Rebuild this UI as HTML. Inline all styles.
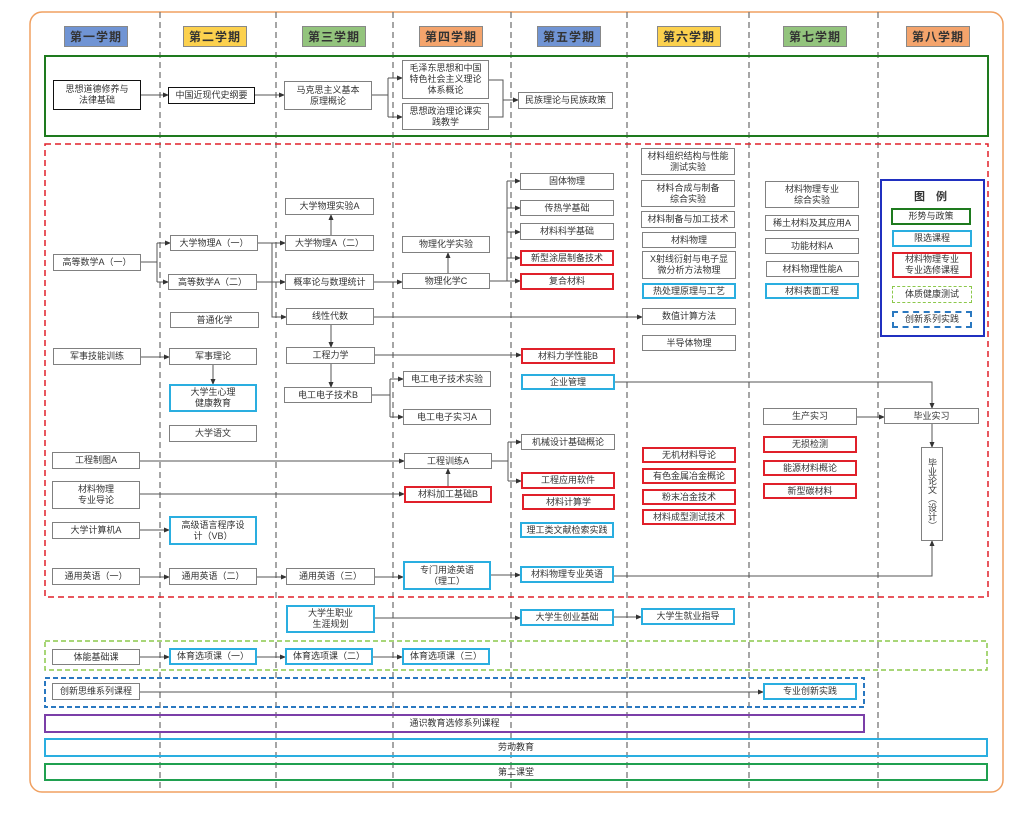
<!DOCTYPE html>
<html><head><meta charset="utf-8"><style>
body{margin:0;background:#fff;}
#w{position:relative;width:1024px;height:819px;overflow:hidden;font-family:"Liberation Sans","Noto Sans CJK SC",sans-serif;}
.b{position:absolute;box-sizing:border-box;border:1.5px solid #808080;background:#fff;display:flex;align-items:center;justify-content:center;text-align:center;font-size:9px;line-height:11px;color:#333;}
.r{border:2px solid #e0202a;}
.c{border:2px solid #2aaee0;}
.k{border:1.5px solid #111;}
.h{position:absolute;box-sizing:border-box;border:1px solid #888;display:flex;align-items:center;justify-content:center;font-size:12px;font-weight:bold;color:#333;top:26px;height:21px;letter-spacing:1px;}
svg{position:absolute;left:0;top:0;}
</style></head><body><div id="w">
<svg width="1024" height="819">
<defs><marker id="a" markerWidth="6" markerHeight="6" refX="5" refY="3" orient="auto" markerUnits="userSpaceOnUse"><path d="M0,0.5 L6,3 L0,5.5z" fill="#333"/></marker></defs>
<rect x="30" y="12" width="973" height="780" rx="12" fill="none" stroke="#f0a060" stroke-width="1.5"/>
<g stroke="#777" stroke-width="1.3" stroke-dasharray="6,4">
<line x1="160" y1="12" x2="160" y2="792"/><line x1="276" y1="12" x2="276" y2="792"/><line x1="393" y1="12" x2="393" y2="792"/><line x1="511" y1="12" x2="511" y2="792"/><line x1="627" y1="12" x2="627" y2="792"/><line x1="749" y1="12" x2="749" y2="792"/><line x1="878" y1="12" x2="878" y2="792"/>
</g>
<rect x="45" y="56" width="943" height="80" fill="none" stroke="#1e7a1e" stroke-width="2"/>
<rect x="45" y="144" width="943" height="453" fill="none" stroke="#e0202a" stroke-width="1.5" stroke-dasharray="6,4"/>
<rect x="45" y="641" width="942" height="29" fill="none" stroke="#8cc84b" stroke-width="1.5" stroke-dasharray="5,3"/>
<rect x="45" y="678" width="819" height="29" fill="none" stroke="#2a78c0" stroke-width="2" stroke-dasharray="5,3"/>
<rect x="45" y="715" width="819" height="17" fill="none" stroke="#7b3fa8" stroke-width="2"/>
<rect x="45" y="739" width="942" height="17" fill="none" stroke="#2aaee0" stroke-width="2"/>
<rect x="45" y="764" width="942" height="16" fill="none" stroke="#20a050" stroke-width="2"/>
<rect x="881" y="180" width="103" height="156" fill="#fff" stroke="#2030c0" stroke-width="2"/>
<g stroke="#555" stroke-width="1" fill="none">
<path d="M141 95H168" marker-end="url(#a)"/>
<path d="M255 95H284" marker-end="url(#a)"/>
<path d="M372 95H388M388 78V117M388 78H402" marker-end="url(#a)"/><path d="M388 117H402" marker-end="url(#a)"/>
<path d="M489 80H503V117H489M503 100H518" marker-end="url(#a)"/>
<path d="M141 262H157M157 243V282M157 243H170" marker-end="url(#a)"/><path d="M157 282H168" marker-end="url(#a)"/>
<path d="M258 243H285" marker-end="url(#a)"/>
<path d="M257 282H285" marker-end="url(#a)"/>
<path d="M272 243V317H286" marker-end="url(#a)"/>
<path d="M331 235V215" marker-end="url(#a)"/>
<path d="M374 282H402" marker-end="url(#a)"/>
<path d="M448 273V253" marker-end="url(#a)"/>
<path d="M490 281H507M507 181V281M507 181H520" marker-end="url(#a)"/><path d="M507 208H520" marker-end="url(#a)"/><path d="M507 232H520" marker-end="url(#a)"/><path d="M507 258H520" marker-end="url(#a)"/><path d="M507 281H520" marker-end="url(#a)"/>
<path d="M374 317H642" marker-end="url(#a)"/>
<path d="M331 325V347" marker-end="url(#a)"/>
<path d="M141 357H169" marker-end="url(#a)"/>
<path d="M213 365V384" marker-end="url(#a)"/>
<path d="M375 355H521" marker-end="url(#a)"/>
<path d="M331 364V387" marker-end="url(#a)"/>
<path d="M372 395H390M390 379V417M390 379H403" marker-end="url(#a)"/><path d="M390 417H403" marker-end="url(#a)"/>
<path d="M140 461H404" marker-end="url(#a)"/>
<path d="M140 494H404" marker-end="url(#a)"/>
<path d="M448 486V469" marker-end="url(#a)"/>
<path d="M492 461H508M508 442V481M508 442H521" marker-end="url(#a)"/><path d="M508 481H521" marker-end="url(#a)"/>
<path d="M140 530H169" marker-end="url(#a)"/>
<path d="M140 577H169" marker-end="url(#a)"/><path d="M257 577H286" marker-end="url(#a)"/><path d="M375 577H403" marker-end="url(#a)"/><path d="M491 575H520" marker-end="url(#a)"/>
<path d="M614 576H932V541" marker-end="url(#a)"/>
<path d="M615 382H932V408" marker-end="url(#a)"/>
<path d="M857 417H884" marker-end="url(#a)"/>
<path d="M932 424V447" marker-end="url(#a)"/>
<path d="M375 618H520" marker-end="url(#a)"/>
<path d="M614 617H641" marker-end="url(#a)"/>
<path d="M140 657H169" marker-end="url(#a)"/><path d="M257 657H285" marker-end="url(#a)"/><path d="M373 657H402" marker-end="url(#a)"/>
<path d="M140 692H763" marker-end="url(#a)"/>
</g>
</svg>
<div class="h" style="left:64px;width:64px;background:#7094d4">第一学期</div>
<div class="h" style="left:183px;width:64px;background:#fcd14e">第二学期</div>
<div class="h" style="left:302px;width:64px;background:#93c47d">第三学期</div>
<div class="h" style="left:419px;width:64px;background:#f4a46c">第四学期</div>
<div class="h" style="left:537px;width:64px;background:#7094d4">第五学期</div>
<div class="h" style="left:657px;width:64px;background:#fcd14e">第六学期</div>
<div class="h" style="left:783px;width:64px;background:#93c47d">第七学期</div>
<div class="h" style="left:906px;width:64px;background:#f4a46c">第八学期</div>

<div class="b k" style="left:53px;top:80px;width:88px;height:30px">思想道德修养与<br>法律基础</div>
<div class="b k" style="left:168px;top:87px;width:87px;height:17px">中国近现代史纲要</div>
<div class="b" style="left:284px;top:81px;width:88px;height:29px">马克思主义基本<br>原理概论</div>
<div class="b" style="left:402px;top:60px;width:87px;height:39px">毛泽东思想和中国<br>特色社会主义理论<br>体系概论</div>
<div class="b" style="left:402px;top:103px;width:87px;height:27px">思想政治理论课实<br>践教学</div>
<div class="b" style="left:518px;top:92px;width:95px;height:17px">民族理论与民族政策</div>

<div class="b" style="left:53px;top:254px;width:88px;height:17px">高等数学A（一）</div>
<div class="b" style="left:170px;top:235px;width:88px;height:16px">大学物理A（一）</div>
<div class="b" style="left:168px;top:274px;width:89px;height:16px">高等数学A（二）</div>
<div class="b" style="left:170px;top:312px;width:89px;height:16px">普通化学</div>
<div class="b" style="left:285px;top:198px;width:89px;height:17px">大学物理实验A</div>
<div class="b" style="left:285px;top:235px;width:89px;height:16px">大学物理A（二）</div>
<div class="b" style="left:285px;top:274px;width:89px;height:16px">概率论与数理统计</div>
<div class="b" style="left:286px;top:308px;width:88px;height:17px">线性代数</div>
<div class="b" style="left:402px;top:236px;width:88px;height:17px">物理化学实验</div>
<div class="b" style="left:402px;top:273px;width:88px;height:16px">物理化学C</div>
<div class="b" style="left:520px;top:173px;width:94px;height:17px">固体物理</div>
<div class="b" style="left:520px;top:200px;width:94px;height:16px">传热学基础</div>
<div class="b" style="left:520px;top:223px;width:94px;height:17px">材料科学基础</div>
<div class="b r" style="left:520px;top:250px;width:94px;height:16px">新型涂层制备技术</div>
<div class="b r" style="left:520px;top:273px;width:94px;height:17px">复合材料</div>

<div class="b" style="left:641px;top:148px;width:94px;height:27px">材料组织结构与性能<br>测试实验</div>
<div class="b" style="left:641px;top:180px;width:94px;height:27px">材料合成与制备<br>综合实验</div>
<div class="b" style="left:641px;top:211px;width:94px;height:17px">材料制备与加工技术</div>
<div class="b" style="left:642px;top:232px;width:94px;height:16px">材料物理</div>
<div class="b" style="left:642px;top:251px;width:94px;height:28px">X射线衍射与电子显<br>微分析方法物理</div>
<div class="b c" style="left:642px;top:283px;width:94px;height:16px">热处理原理与工艺</div>
<div class="b" style="left:642px;top:308px;width:94px;height:17px">数值计算方法</div>
<div class="b" style="left:642px;top:335px;width:94px;height:16px">半导体物理</div>

<div class="b" style="left:765px;top:181px;width:94px;height:27px">材料物理专业<br>综合实验</div>
<div class="b" style="left:765px;top:215px;width:94px;height:16px">稀土材料及其应用A</div>
<div class="b" style="left:765px;top:238px;width:94px;height:16px">功能材料A</div>
<div class="b" style="left:766px;top:261px;width:93px;height:16px">材料物理性能A</div>
<div class="b c" style="left:765px;top:283px;width:94px;height:16px">材料表面工程</div>

<div style="position:absolute;left:881px;top:188px;width:103px;text-align:center;font-size:11px;font-weight:bold;color:#333;letter-spacing:4px">图 例</div>
<div class="b" style="left:891px;top:208px;width:80px;height:17px;border:2px solid #1e7a1e">形势与政策</div>
<div class="b c" style="left:892px;top:230px;width:80px;height:17px">限选课程</div>
<div class="b r" style="left:892px;top:252px;width:80px;height:26px">材料物理专业<br>专业选修课程</div>
<div class="b" style="left:892px;top:286px;width:80px;height:17px;border:1.5px dashed #8cc84b">体质健康测试</div>
<div class="b" style="left:892px;top:311px;width:80px;height:17px;border:2px dashed #2a78c0">创新系列实践</div>

<div class="b" style="left:53px;top:348px;width:88px;height:17px">军事技能训练</div>
<div class="b" style="left:169px;top:348px;width:88px;height:17px">军事理论</div>
<div class="b c" style="left:169px;top:384px;width:88px;height:28px">大学生心理<br>健康教育</div>
<div class="b" style="left:169px;top:425px;width:88px;height:17px">大学语文</div>
<div class="b" style="left:286px;top:347px;width:89px;height:17px">工程力学</div>
<div class="b" style="left:284px;top:387px;width:88px;height:16px">电工电子技术B</div>
<div class="b" style="left:403px;top:371px;width:88px;height:16px">电工电子技术实验</div>
<div class="b" style="left:403px;top:409px;width:88px;height:16px">电工电子实习A</div>
<div class="b" style="left:52px;top:452px;width:88px;height:17px">工程制图A</div>
<div class="b" style="left:52px;top:481px;width:88px;height:28px">材料物理<br>专业导论</div>
<div class="b" style="left:52px;top:522px;width:88px;height:17px">大学计算机A</div>
<div class="b c" style="left:169px;top:516px;width:88px;height:29px">高级语言程序设<br>计（VB）</div>
<div class="b" style="left:52px;top:568px;width:88px;height:17px">通用英语（一）</div>
<div class="b" style="left:169px;top:568px;width:88px;height:17px">通用英语（二）</div>
<div class="b" style="left:286px;top:568px;width:89px;height:17px">通用英语（三）</div>
<div class="b c" style="left:403px;top:561px;width:88px;height:29px">专门用途英语<br>（理工）</div>
<div class="b" style="left:404px;top:453px;width:88px;height:16px">工程训练A</div>
<div class="b r" style="left:404px;top:486px;width:88px;height:17px">材料加工基础B</div>

<div class="b r" style="left:521px;top:348px;width:94px;height:16px">材料力学性能B</div>
<div class="b c" style="left:521px;top:374px;width:94px;height:16px">企业管理</div>
<div class="b" style="left:521px;top:434px;width:94px;height:16px">机械设计基础概论</div>
<div class="b r" style="left:521px;top:472px;width:94px;height:17px">工程应用软件</div>
<div class="b r" style="left:522px;top:494px;width:93px;height:16px">材料计算学</div>
<div class="b c" style="left:520px;top:522px;width:94px;height:16px">理工类文献检索实践</div>
<div class="b c" style="left:520px;top:566px;width:94px;height:17px">材料物理专业英语</div>

<div class="b r" style="left:642px;top:447px;width:94px;height:16px">无机材料导论</div>
<div class="b r" style="left:642px;top:468px;width:94px;height:16px">有色金属冶金概论</div>
<div class="b r" style="left:642px;top:489px;width:94px;height:16px">粉末冶金技术</div>
<div class="b r" style="left:642px;top:509px;width:94px;height:16px">材料成型测试技术</div>

<div class="b" style="left:763px;top:408px;width:94px;height:17px">生产实习</div>
<div class="b r" style="left:763px;top:436px;width:94px;height:17px">无损检测</div>
<div class="b r" style="left:763px;top:460px;width:94px;height:16px">能源材料概论</div>
<div class="b r" style="left:763px;top:483px;width:94px;height:16px">新型碳材料</div>
<div class="b" style="left:884px;top:408px;width:95px;height:16px">毕业实习</div>
<div class="b" style="left:921px;top:447px;width:22px;height:94px;writing-mode:vertical-rl;line-height:20px">毕业论文（设计）</div>

<div class="b c" style="left:286px;top:605px;width:89px;height:28px">大学生职业<br>生涯规划</div>
<div class="b c" style="left:520px;top:609px;width:94px;height:17px">大学生创业基础</div>
<div class="b c" style="left:641px;top:608px;width:94px;height:17px">大学生就业指导</div>
<div class="b" style="left:52px;top:649px;width:88px;height:16px">体能基础课</div>
<div class="b c" style="left:169px;top:648px;width:88px;height:17px">体育选项课（一）</div>
<div class="b c" style="left:285px;top:648px;width:88px;height:17px">体育选项课（二）</div>
<div class="b c" style="left:402px;top:648px;width:88px;height:17px">体育选项课（三）</div>
<div class="b" style="left:52px;top:683px;width:88px;height:17px">创新思维系列课程</div>
<div class="b c" style="left:763px;top:683px;width:94px;height:17px">专业创新实践</div>
<div class="b" style="left:46px;top:716px;width:817px;height:15px;border:none;background:none">通识教育选修系列课程</div>
<div class="b" style="left:46px;top:740px;width:940px;height:15px;border:none;background:none">劳动教育</div>
<div class="b" style="left:46px;top:765px;width:940px;height:14px;border:none;background:none">第二课堂</div>
</div></body></html>
